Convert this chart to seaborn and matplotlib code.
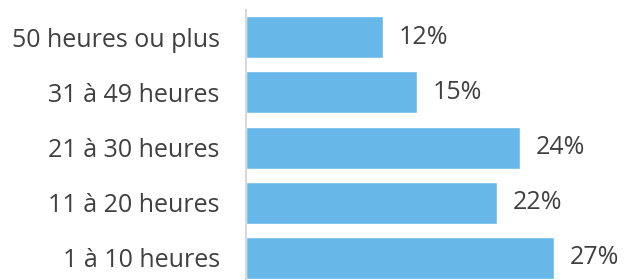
import pandas as pd
import matplotlib.pyplot as plt
import seaborn as sns

categories = ['50 heures ou plus', '31 à 49 heures', '21 à 30 heures', '11 à 20 heures', '1 à 10 heures']
values = [12, 15, 24, 22, 27]

df = pd.DataFrame({'categorie': categories, 'pourcentage': values})

sns.set_theme(style="white")
plt.rcParams['font.family'] = ['Open Sans', 'DejaVu Sans']

fig = plt.figure(figsize=(6.36, 2.80), dpi=100)
ax = fig.add_axes([0.387, -0.02, 0.61, 0.986])

sns.barplot(ax=ax, data=df, x='pourcentage', y='categorie', color='#67B8E9',
            saturation=1, width=0.76, orient='h')

ax.bar_label(ax.containers[0], labels=[f'{v}%' for v in values], padding=11,
             fontsize=18, color='#404040')

ax.set_xlim(0, 34)
ax.set_ylim(4.5, -0.5)
ax.set_xlabel('')
ax.set_ylabel('')
ax.set_xticks([])
for s in ['top', 'right', 'bottom']:
    ax.spines[s].set_visible(False)
ax.spines['left'].set_color('#D9D9D9')
ax.spines['left'].set_linewidth(1.5)
ax.tick_params(axis='y', length=0, pad=19, labelsize=18, labelcolor='#404040')

fig.savefig('out.png', dpi=100)
